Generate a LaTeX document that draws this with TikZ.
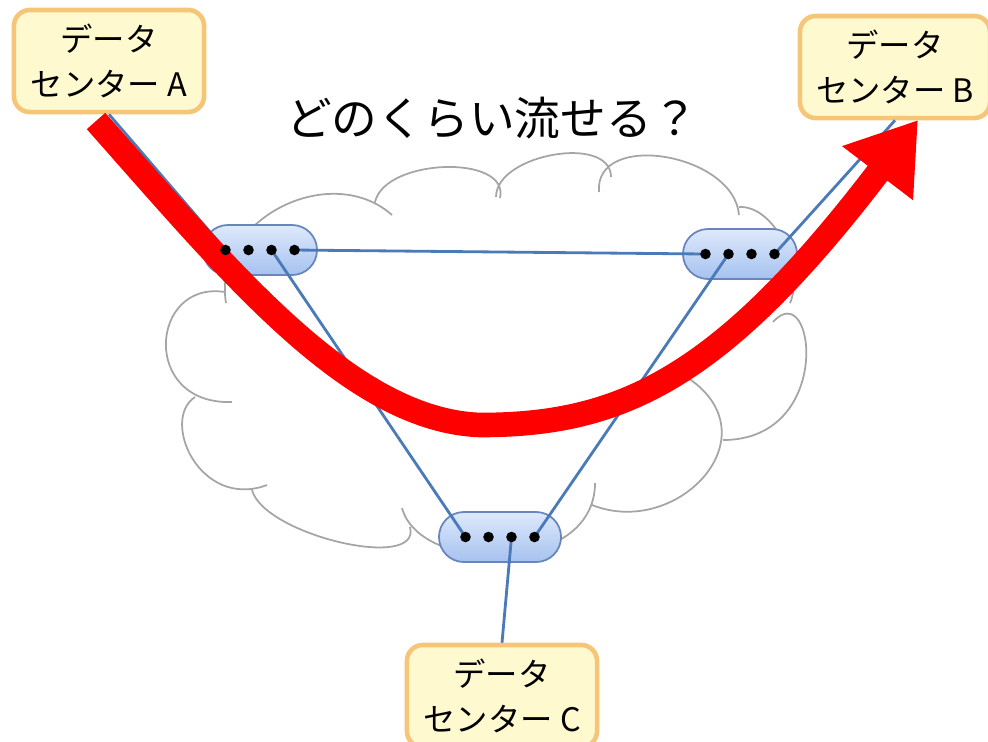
\documentclass[tikz,border=0pt]{standalone}
\usepackage{fontspec}
\setmainfont{Noto Sans CJK JP}
\usetikzlibrary{arrows.meta,shapes.misc}
\definecolor{dcfill}{RGB}{255,249,208}
\definecolor{dcline}{RGB}{247,197,120}
\definecolor{linkblue}{RGB}{74,122,184}
\definecolor{rtrtop}{RGB}{222,233,251}
\definecolor{rtrbot}{RGB}{166,194,240}
\definecolor{rtrline}{RGB}{104,134,188}
\definecolor{cloudgray}{RGB}{165,165,165}
\tikzset{
  dcbox/.style={draw=dcline, line width=1.3pt, fill=dcfill, rounded corners=4.5pt,
    minimum width=1.9cm, minimum height=1.02cm, inner sep=0pt, align=center,
    font=\fontsize{9.2pt}{12.8pt}\selectfont},
  router/.style={rounded rectangle, draw=rtrline, line width=0.5pt,
    top color=rtrtop, bottom color=rtrbot,
    minimum width=1.14cm, minimum height=0.5cm, inner sep=0pt},
  link/.style={draw=linkblue, line width=0.8pt},
  flow/.style={draw=red, line width=7pt, -{Triangle[length=19pt,width=24pt]}},
  cloudline/.style={draw=cloudgray, line width=0.5pt},
}
\newcommand{\rtrdots}[2]{%
  \foreach \i in {1,...,4} \path (#1) ++(\i*23-57.5,0) coordinate (#2\i);}

\begin{document}
\begin{tikzpicture}[x=0.01cm, y=-0.01cm]
\useasboundingbox (0,0) rectangle (988,741);
\draw[cloudline] (226,303) .. controls (212,220) and (330,160) .. (392,215)
  (375,202) .. controls (385,158) and (510,154) .. (500,198)
  (496,197) .. controls (496,154) and (611,134) .. (611,177)
  (599,192) .. controls (594,130) and (734,153) .. (739,215)
  (739,207) .. controls (775,205) and (805,270) .. (790,303)
  (773,322) .. controls (815,275) and (835,440) .. (723,440)
  (592,505) .. controls (680,540) and (780,430) .. (680,373)
  (402,508) .. controls (420,575) and (595,575) .. (595,483)
  (252,490) .. controls (264,535) and (422,572) .. (410,527)
  (195,397) .. controls (160,420) and (200,510) .. (267,485)
  (225,292) .. controls (150,280) and (140,405) .. (232,402);

\node[dcbox] (dcA) at (109,61) {データ\\センター A};
\node[dcbox] (dcB) at (895,67) {データ\\センター B};
\node[dcbox] (dcC) at (502,696) {データ\\センター C};
\node[font=\fontsize{13pt}{15pt}\selectfont] (ask) at (492,118) {どのくらい流せる？};

\node[router] (rL) at (260,250) {};
\node[router] (rR) at (740,254) {};
\node[router, minimum width=1.22cm] (rB) at (500,537) {};
\rtrdots{rL}{L}\rtrdots{rR}{R}\rtrdots{rB}{B}

\draw[link] (dcA.south) -- (L1) (L4) -- (R1) (L3) -- (B1)
  (R2) -- (B4) (R4) -- (dcB.south) (B3) -- (dcC.north);

\coordinate (flowS) at (96,121);
\coordinate (flowE) at (918,120);
\draw[flow] (flowS) .. controls (230,272) and (350,420) .. (480,425)
  .. controls (620,425) and (720,380) .. (flowE);

\foreach \p in {L,R,B} \foreach \i in {1,...,4} \fill (\p\i) circle (1.5pt);
\end{tikzpicture}
\end{document}
